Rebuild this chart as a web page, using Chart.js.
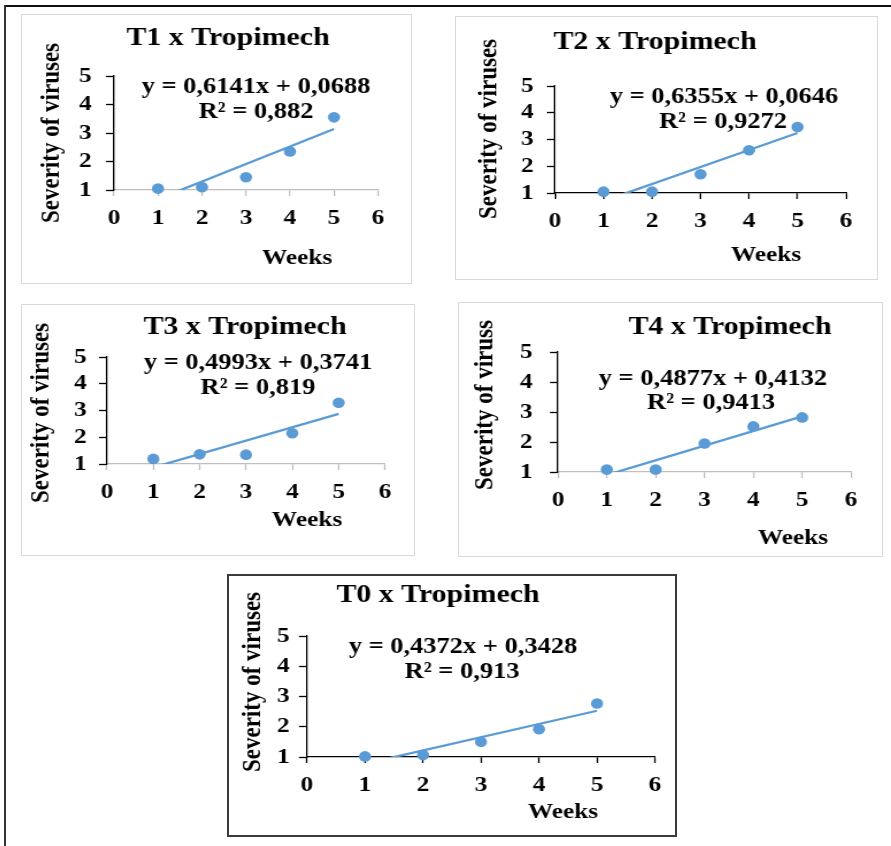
<!DOCTYPE html>
<html>
<head>
<meta charset="utf-8">
<script src="https://cdn.jsdelivr.net/npm/chart.js@4.4.1/dist/chart.umd.min.js"></script>
<style>
  body { margin: 0; background: #fff; width: 891px; height: 846px; position: relative; overflow: hidden; }
  #frameTop { position: absolute; left: 4px; top: 5px; width: 887px; height: 2px; background: #111; }
  #frameLeft { position: absolute; left: 4px; top: 5px; width: 2px; height: 841px; background: #333; }
  .panel { position: absolute; box-sizing: border-box; border: 1px solid #d9d9d9; background: #fff; }
  .panel.dark { border: 2px solid #3a3a3a; }
  .panel canvas { position: absolute; left: 0; top: 0; }
</style>
</head>
<body>
<div id="frameTop"></div>
<div id="frameLeft"></div>
<script>
// data
const weeks = [1, 2, 3, 4, 5]
const sevT1 = [1.05, 1.1, 1.45, 2.35, 3.55]
const sevT2 = [1.05, 1.05, 1.7, 2.6, 3.47]
const sevT3 = [1.19, 1.36, 1.35, 2.15, 3.29]
const sevT4 = [1.08, 1.08, 1.95, 2.52, 2.82]
const sevT0 = [1.02, 1.07, 1.5, 1.92, 2.77]
const slopes = [0.6141, 0.6355, 0.4993, 0.4877, 0.4372]
const intercepts = [0.0688, 0.0646, 0.3741, 0.4132, 0.3428]
const r2 = ['0,882', '0,9272', '0,819', '0,9413', '0,913']
const titles = ['T1 x Tropimech', 'T2 x Tropimech', 'T3 x Tropimech', 'T4 x Tropimech', 'T0 x Tropimech']
const yTitles = ['Severity of viruses', 'Severity of viruses', 'Severity of viruses', 'Severity of viruss', 'Severity of viruses']
const xTitle = 'Weeks'
const xRange = [0, 6]
const yRange = [1, 5]
const series = [sevT1, sevT2, sevT3, sevT4, sevT0]

const blue = '#5b9bd5'
const serif = '"Liberation Serif", "Times New Roman", serif'
const stretch = 1.15  // the source image is a bit wider than tall
const xBand = 45      // canvas px kept for the x tick labels

// page positions of each panel: box, plot area, left edge of y tick labels, text centers
const panels = [
  {box: [21, 14, 412, 284], area: [114, 76, 378, 190], yLab: 79, title: [228, 38], eq: [256, 87], r2: [256, 112], yt: [52, 133], xt: [297, 258], xCol: '#bfbfbf'},
  {box: [455, 16, 878, 280], area: [555, 86, 846, 193], yLab: 521, title: [655, 42], eq: [724, 97], r2: [723, 122], yt: [490, 129], xt: [766, 255], xCol: '#000'},
  {box: [21, 304, 415, 556], area: [107, 357, 385, 464], yLab: 74, title: [245, 327], eq: [258, 363], r2: [258, 388], yt: [42, 413], xt: [307, 520], xCol: '#bfbfbf'},
  {box: [458, 302, 883, 557], area: [558, 352, 851, 472], yLab: 520, title: [730, 327], eq: [713, 379], r2: [711, 403], yt: [485, 405], xt: [793, 538], xCol: '#bfbfbf'},
  {box: [227, 574, 677, 837], area: [307, 636, 655, 757], yLab: 277, title: [438, 595], eq: [463, 647], r2: [462, 672], yt: [253, 682], xt: [563, 812], xCol: '#000', dark: true}
]

function comma(v) {
  return v.toFixed(4).replace('.', ',')
}

function makePanel(i) {
  const p = panels[i]
  const bw = p.dark ? 2 : 1
  const div = document.createElement('div')
  div.className = 'panel' + (p.dark ? ' dark' : '')
  const w = p.box[2] - p.box[0], h = p.box[3] - p.box[1]
  div.style.left = p.box[0] + 'px'
  div.style.top = p.box[1] + 'px'
  div.style.width = w + 'px'
  div.style.height = h + 'px'
  document.body.appendChild(div)

  const innerW = w - 2 * bw, innerH = h - 2 * bw
  const cw = Math.round(innerW / stretch)
  const sx = innerW / cw
  const canvas = document.createElement('canvas')
  canvas.width = cw
  canvas.height = innerH
  canvas.style.width = innerW + 'px'
  canvas.style.height = innerH + 'px'
  div.appendChild(canvas)

  const ox = p.box[0] + bw, oy = p.box[1] + bw
  const cx = x => (x - ox) / sx
  const cy = y => y - oy
  const yBand = cx(p.area[0]) - cx(p.yLab)

  // pin the scale boxes so the plot area lands where the reference has it
  function fixFit(scale) {
    if (scale.isHorizontal()) scale.height = xBand
    else scale.width = yBand
    scale.paddingLeft = 0
    scale.paddingRight = 0
    scale.paddingTop = 0
    scale.paddingBottom = 0
  }

  const sev = series[i]
  const points = weeks.map((wk, k) => ({x: wk, y: sev[k]}))
  const first = weeks[0], last = weeks[weeks.length - 1]
  const trend = [
    {x: first, y: slopes[i] * first + intercepts[i]},
    {x: last, y: slopes[i] * last + intercepts[i]}
  ]

  const labels = {
    id: 'labels',
    afterDraw(chart) {
      const ctx = chart.ctx
      ctx.save()
      ctx.fillStyle = '#000'
      ctx.textAlign = 'center'
      ctx.textBaseline = 'middle'
      ctx.font = 'bold 26px ' + serif
      ctx.fillText(titles[i], cx(p.title[0]), cy(p.title[1]))
      ctx.font = 'bold 23px ' + serif
      ctx.fillText('y = ' + comma(slopes[i]) + 'x + ' + comma(intercepts[i]), cx(p.eq[0]), cy(p.eq[1]))
      ctx.fillText('R² = ' + r2[i], cx(p.r2[0]), cy(p.r2[1]))
      ctx.font = 'bold 22px ' + serif
      ctx.fillText(xTitle, cx(p.xt[0]), cy(p.xt[1]))
      ctx.translate(cx(p.yt[0]), cy(p.yt[1]))
      ctx.rotate(-Math.PI / 2)
      ctx.font = 'bold 23px ' + serif
      ctx.fillText(yTitles[i], 0, 0)
      ctx.restore()
    }
  }

  const tickFont = {family: serif, size: 22, weight: 'bold'}
  new Chart(canvas, {
    type: 'scatter',
    data: {
      datasets: [
        {data: points, backgroundColor: blue, borderColor: blue, pointRadius: 5.3, pointBorderWidth: 0, clip: false, order: 0},
        {data: trend, showLine: true, borderColor: blue, borderWidth: 2.3, pointRadius: 0, clip: 0, order: 1}
      ]
    },
    options: {
      responsive: false,
      animation: false,
      events: [],
      layout: {
        padding: {
          left: cx(p.yLab),
          right: cw - cx(p.area[2]),
          top: cy(p.area[1]),
          bottom: innerH - cy(p.area[3]) - xBand
        }
      },
      plugins: {legend: {display: false}, tooltip: {enabled: false}, title: {display: false}},
      scales: {
        x: {
          type: 'linear', min: xRange[0], max: xRange[1],
          ticks: {stepSize: 1, autoSkip: false, maxRotation: 0, color: '#000', font: tickFont, padding: 9},
          grid: {drawOnChartArea: false, tickLength: 6, tickColor: p.xCol, tickWidth: 1.3},
          border: {color: p.xCol, width: 1.3},
          afterFit: fixFit
        },
        y: {
          type: 'linear', min: yRange[0], max: yRange[1],
          ticks: {stepSize: 1, autoSkip: false, crossAlign: 'far', color: '#000', font: tickFont},
          grid: {drawOnChartArea: false, tickLength: 7, tickColor: '#000', tickWidth: 1.3},
          border: {color: '#000', width: 1.3},
          afterFit: fixFit
        }
      }
    },
    plugins: [labels]
  })
}

for (let i = 0; i < panels.length; i++) makePanel(i)
</script>
</body>
</html>
